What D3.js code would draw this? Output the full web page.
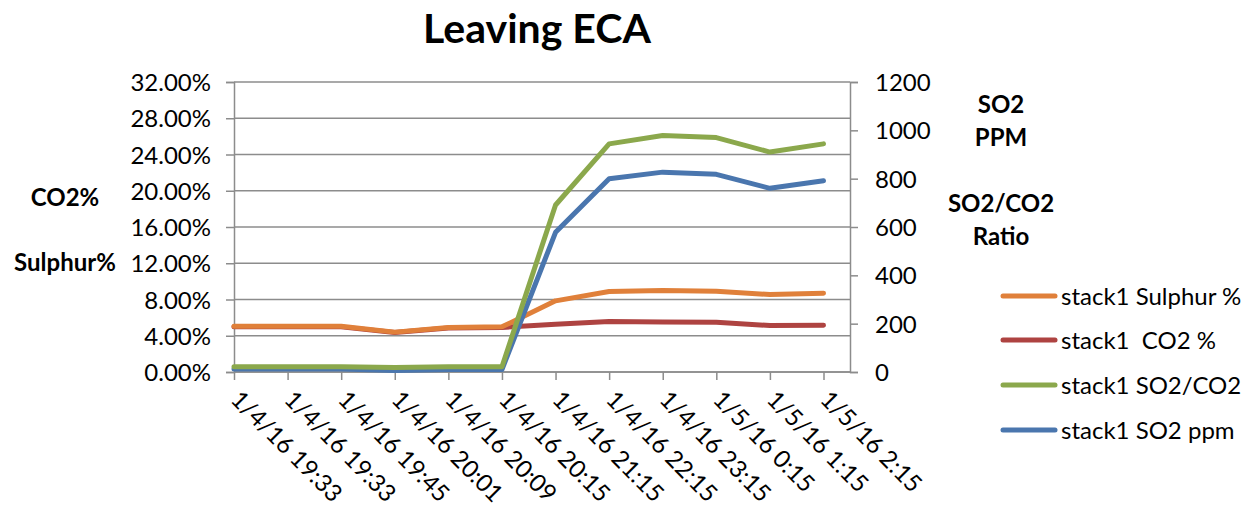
<!DOCTYPE html>
<html>
<head>
<meta charset="utf-8">
<script src="https://cdn.jsdelivr.net/npm/d3@7"></script>
<style>
  html, body { margin: 0; padding: 0; background: #fff; }
  svg { display: block; }
  text { font-family: Lato, "Open Sans", sans-serif; fill: #000; }
</style>
</head>
<body>
<svg id="chart" width="1247" height="510"></svg>
<script>
// ---- data ----
const categories = ["1/4/16 19:33", "1/4/16 19:33", "1/4/16 19:45", "1/4/16 20:01", "1/4/16 20:09", "1/4/16 20:15",
                    "1/4/16 21:15", "1/4/16 22:15", "1/4/16 23:15", "1/5/16 0:15", "1/5/16 1:15", "1/5/16 2:15"];
const sulphurPct = [5.05, 5.05, 5.05, 4.40, 4.90, 4.98, 7.85, 8.88, 8.99, 8.92, 8.55, 8.70];
const co2Pct     = [4.98, 4.98, 4.98, 4.35, 4.85, 4.92, 5.27, 5.57, 5.53, 5.49, 5.12, 5.16];
const so2co2     = [22, 22, 22, 19, 22, 22, 691, 944, 979, 970, 910, 944];
const so2ppm     = [12, 12, 12, 6, 10, 10, 578, 800, 827, 818, 760, 791];
const leftTicks  = [0, 4, 8, 12, 16, 20, 24, 28, 32];
const rightTicks = [0, 200, 400, 600, 800, 1000, 1200];
const series = [
  { name: "stack1 Sulphur %", values: sulphurPct, axis: "left",  color: "#E0803A" },
  { name: "stack1  CO2 %",    values: co2Pct,     axis: "left",  color: "#AE4341" },
  { name: "stack1 SO2/CO2",   values: so2co2,     axis: "right", color: "#8BA84C" },
  { name: "stack1 SO2 ppm",   values: so2ppm,     axis: "right", color: "#4A76AE" }
];
const drawOrder = [1, 0, 3, 2];

// ---- layout ----
const svg = d3.select("#chart");
const plotL = 234, plotR = 850, plotT = 82, plotB = 372;
const x = d3.scalePoint().domain(d3.range(categories.length)).range([plotL, 823.5]);
const yL = d3.scaleLinear().domain([0, 32]).range([plotB, plotT]);
const yR = d3.scaleLinear().domain([0, 1200]).range([plotB, plotT]);
const gridColor = "#8c8c8c";

// title
svg.append("text").attr("x", 537).attr("y", 43).attr("text-anchor", "middle")
  .style("font-size", "41px").style("font-weight", "bold").text("Leaving ECA");

// gridlines
svg.append("g").selectAll("line").data(leftTicks).join("line")
  .attr("x1", plotL).attr("x2", plotR)
  .attr("y1", d => yL(d)).attr("y2", d => yL(d))
  .attr("stroke", gridColor).attr("stroke-width", 1.5);

// left axis
const gL = svg.append("g").attr("transform", `translate(${plotL},0)`)
  .call(d3.axisLeft(yL).tickValues(leftTicks).tickSize(8).tickPadding(15)
        .tickFormat(d => d.toFixed(2) + "%"));
// right axis
const gR = svg.append("g").attr("transform", `translate(${plotR},0)`)
  .call(d3.axisRight(yR).tickValues(rightTicks).tickSize(8).tickPadding(17)
        .tickFormat(d3.format("d")));
// bottom axis
const gB = svg.append("g").attr("transform", `translate(0,${plotB})`)
  .call(d3.axisBottom(x).tickSize(8).tickFormat(i => categories[i]));

[gL, gR, gB].forEach(g => {
  g.select(".domain").attr("stroke", gridColor).attr("stroke-width", 1.5);
  g.selectAll(".tick line").attr("stroke", gridColor).attr("stroke-width", 1.5);
  g.selectAll("text").style("font-size", "24px").attr("fill", "#000");
});
gB.select(".domain").attr("d", `M${plotL},0H${plotR}`);
gL.selectAll(".tick text").attr("dy", "0.36em");
gR.selectAll(".tick text").attr("dy", "0.36em");
gB.selectAll(".tick text")
  .attr("text-anchor", "start")
  .attr("y", 0).attr("dy", 0)
  .attr("transform", "translate(-5,29) rotate(45)")
  .style("font-size", "24px");

// lines
const line = s => d3.line()
  .x((d, i) => x(i))
  .y(d => (s.axis === "left" ? yL(d) : yR(d)));
svg.append("g").selectAll("path").data(drawOrder.map(k => series[k])).join("path")
  .attr("d", s => line(s)(s.values))
  .attr("fill", "none").attr("stroke", s => s.color)
  .attr("stroke-width", 5).attr("stroke-linejoin", "round").attr("stroke-linecap", "round");

// axis titles
const boldTitle = (txt, cx, cy) => svg.append("text").attr("x", cx).attr("y", cy)
  .attr("text-anchor", "middle").attr("dy", "0.36em")
  .style("font-size", "24px").style("font-weight", "bold").text(txt);
boldTitle("CO2%", 65, 197);
boldTitle("Sulphur%", 65, 262);
boldTitle("SO2", 1001, 104);
boldTitle("PPM", 1001, 137);
boldTitle("SO2/CO2", 1001, 203);
boldTitle("Ratio", 1001, 236);

// legend
const legY = [296, 340, 385, 430];
const leg = svg.append("g").selectAll("g").data(series).join("g")
  .attr("transform", (d, i) => `translate(0,${legY[i]})`);
leg.append("line").attr("x1", 1003).attr("x2", 1055).attr("y1", 0).attr("y2", 0)
  .attr("stroke", d => d.color).attr("stroke-width", 5).attr("stroke-linecap", "round");
leg.append("text").attr("x", 1061).attr("y", 0).attr("dy", "0.36em")
  .style("font-size", "24px").style("white-space", "pre")
  .attr("xml:space", "preserve").text(d => d.name);
</script>
</body>
</html>
